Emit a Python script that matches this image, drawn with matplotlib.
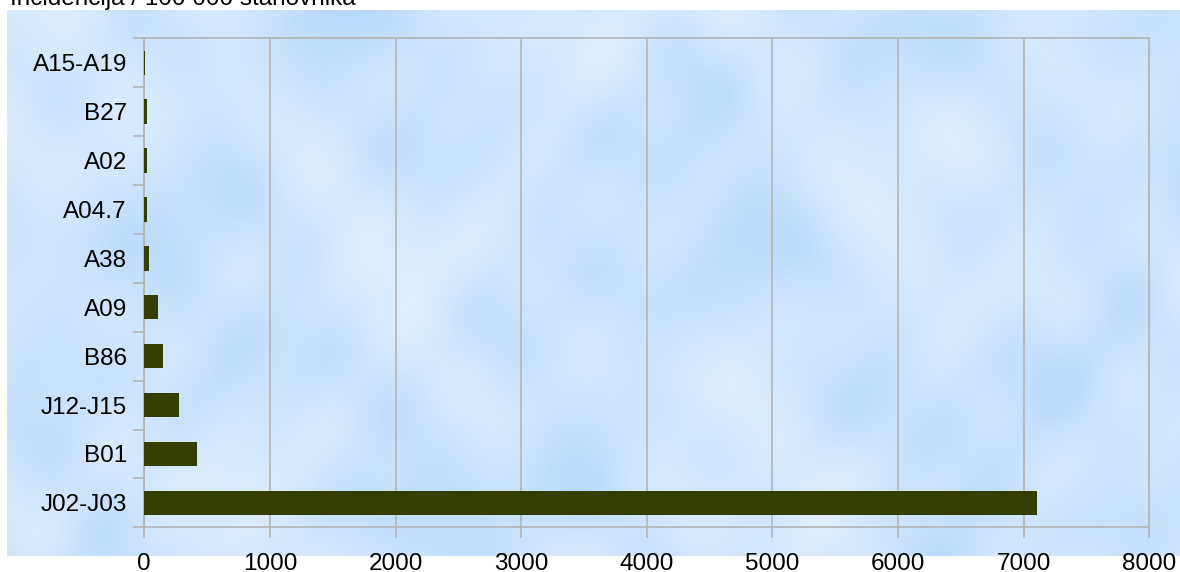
import numpy as np
import matplotlib
matplotlib.use("Agg")
import matplotlib.pyplot as plt
from matplotlib.colors import LinearSegmentedColormap
from matplotlib.ticker import FixedLocator

categories = ["A15-A19", "B27", "A02", "A04.7", "A38", "A09", "B86", "J12-J15", "B01", "J02-J03"]
values = [8, 20, 25, 25, 35, 107, 149, 276, 420, 7105]
x_ticks = [0, 1000, 2000, 3000, 4000, 5000, 6000, 7000, 8000]
title_text = "Incidencija / 100 000 stanovnika"

W, H = 1180, 572
plt.rcParams['font.family'] = ['Liberation Sans', 'DejaVu Sans']
fig = plt.figure(figsize=(W / 100, H / 100), dpi=100)
fig.patch.set_facecolor('white')

# cloud-like background texture (decorative)
bg_l, bg_r, bg_t, bg_b = 7, 1180, 10, 556
bg = fig.add_axes([bg_l / W, 1 - bg_b / H, (bg_r - bg_l) / W, (bg_b - bg_t) / H])
bg.set_axis_off()
gx, gy = np.meshgrid(np.arange(bg_r - bg_l), np.arange(bg_b - bg_t))
waves = [
    (0.013, 0.009, 0.3, 0.7), (-0.010, 0.016, 1.7, 0.7), (0.023, -0.014, 2.9, 0.6),
    (0.031, 0.025, 0.8, 0.5), (-0.038, 0.021, 4.1, 0.45), (0.047, -0.033, 5.3, 0.35),
    (0.008, 0.036, 2.2, 0.5), (-0.058, -0.041, 0.1, 0.25), (0.066, 0.051, 3.6, 0.2),
    (0.027, -0.049, 1.1, 0.3),
]
tex = np.zeros_like(gx, dtype=float)
for a, b, ph, amp in waves:
    tex += amp * np.sin(a * gx + b * gy + ph)
tex = (tex - tex.min()) / (tex.max() - tex.min())
cmap = LinearSegmentedColormap.from_list("clouds", ["#b8d8fb", "#d0e5fc", "#e0eefd"])
bg.imshow(tex, cmap=cmap, aspect='auto', interpolation='bilinear')

# plot axes
ax_l, ax_r, ax_t, ax_b = 144.3, 1149.3, 38.3, 527.3
ax = fig.add_axes([ax_l / W, 1 - ax_b / H, (ax_r - ax_l) / W, (ax_b - ax_t) / H])
ax.patch.set_alpha(0)

ypos = np.arange(len(categories))
ax.barh(ypos, values, height=0.5, color='#333e00', zorder=3)
ax.set_ylim(len(categories) - 0.5, -0.5)
ax.set_xlim(0, 8000)

grid_c = '#b4b4b4'
ax.set_xticks(x_ticks)
ax.set_xticklabels([str(t) for t in x_ticks])
ax.xaxis.grid(True, color=grid_c, linewidth=1.2, zorder=1)
ax.set_yticks(ypos)
ax.set_yticklabels(categories)
ax.yaxis.set_minor_locator(FixedLocator(np.arange(-0.5, len(categories), 1.0)))
ax.tick_params(axis='y', which='major', length=0, pad=12.5, labelsize=17.5)
ax.tick_params(axis='y', which='minor', length=8, width=1.2, color=grid_c)
ax.tick_params(axis='x', which='major', length=8, width=1.2, color=grid_c, pad=10.5, labelsize=17.5)
for s in ax.spines.values():
    s.set_color(grid_c)
    s.set_linewidth(1.2)

fig.text(10 / W, 1 - 4.5 / H, title_text, fontsize=17.5, ha='left', va='baseline')

fig.savefig("out.png", dpi=100)
